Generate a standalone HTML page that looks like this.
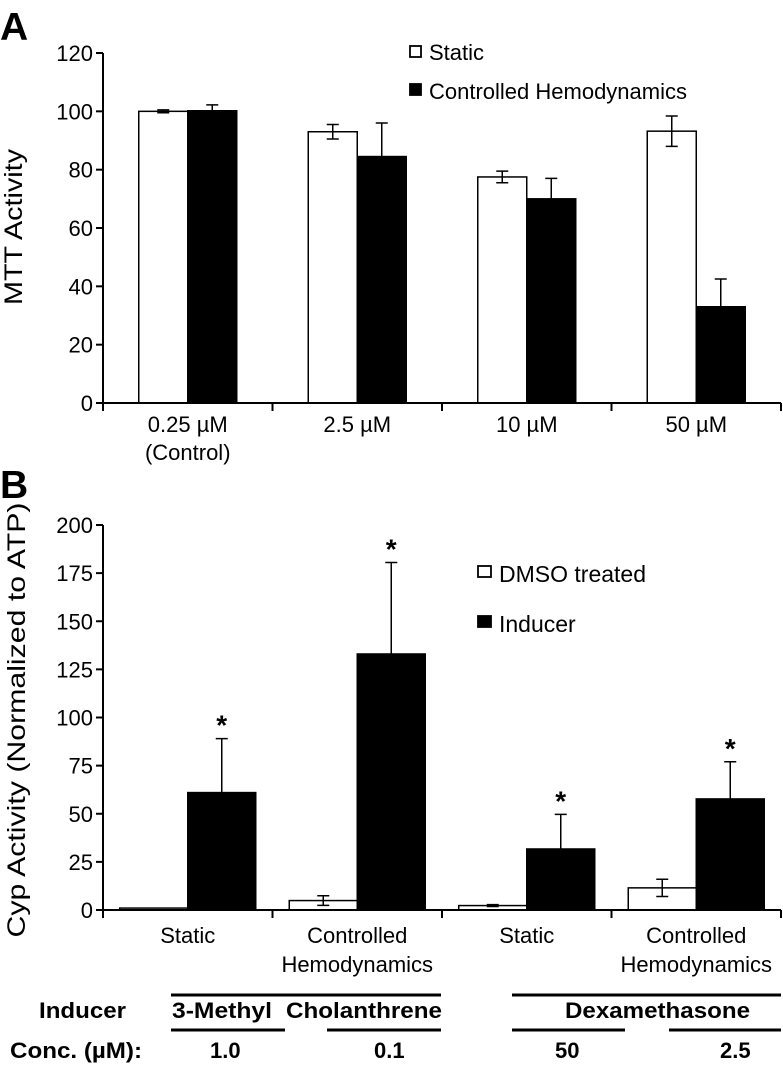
<!DOCTYPE html>
<html><head><meta charset="utf-8"><style>
html,body{margin:0;padding:0;background:#fff;}
svg{display:block;font-family:"Liberation Sans",Arial,sans-serif;}
</style></head><body>
<svg id="fig" width="783" height="1069" viewBox="0 0 783 1069" xmlns="http://www.w3.org/2000/svg">
<text x="0" y="40" font-size="39" font-weight="bold">A</text>
<text x="0" y="498" font-size="39" font-weight="bold">B</text>
<text transform="translate(22,227) rotate(-90)" text-anchor="middle" font-size="25" textLength="156" lengthAdjust="spacingAndGlyphs">MTT Activity</text>
<text transform="translate(25,720) rotate(-90)" text-anchor="middle" font-size="25" textLength="435" lengthAdjust="spacingAndGlyphs">Cyp Activity (Normalized to ATP)</text>
<g id="chartA"></g>
<g id="chartB"></g>
<g>
<rect x="410" y="46" width="11" height="11" fill="#fff" stroke="#000" stroke-width="1.8"/>
<text x="429" y="60" font-size="22">Static</text>
<rect x="410" y="84" width="11" height="11" fill="#000" stroke="#000" stroke-width="1.8"/>
<text x="429" y="99" font-size="22">Controlled Hemodynamics</text>
</g>
<g>
<rect x="478" y="566" width="13" height="11" fill="#fff" stroke="#000" stroke-width="1.8"/>
<text x="499" y="582" font-size="23">DMSO treated</text>
<rect x="478" y="616" width="13" height="11" fill="#000" stroke="#000" stroke-width="1.8"/>
<text x="499" y="632" font-size="23">Inducer</text>
</g>
<g font-size="22" font-weight="bold">
<line x1="171" y1="995" x2="441" y2="995" stroke="#000" stroke-width="3"/>
<line x1="512" y1="995" x2="781" y2="995" stroke="#000" stroke-width="3"/>
<line x1="171" y1="1030" x2="285" y2="1030" stroke="#000" stroke-width="3"/>
<line x1="327" y1="1030" x2="441" y2="1030" stroke="#000" stroke-width="3"/>
<line x1="512" y1="1030" x2="625" y2="1030" stroke="#000" stroke-width="3"/>
<line x1="669" y1="1030" x2="781" y2="1030" stroke="#000" stroke-width="3"/>
<text x="39" y="1018" textLength="87" lengthAdjust="spacingAndGlyphs">Inducer</text>
<text x="172" y="1018" textLength="100" lengthAdjust="spacingAndGlyphs">3-Methyl</text>
<text x="286" y="1018" textLength="156" lengthAdjust="spacingAndGlyphs">Cholanthrene</text>
<text x="565" y="1018" textLength="185" lengthAdjust="spacingAndGlyphs">Dexamethasone</text>
<text x="10" y="1058" textLength="132" lengthAdjust="spacingAndGlyphs">Conc. (µM):</text>
<text x="210" y="1058">1.0</text>
<text x="374" y="1058">0.1</text>
<text x="555" y="1058">50</text>
<text x="720" y="1058">2.5</text>
</g>
</svg>
<script>
const catsA = [["0.25 µM","(Control)"],["2.5 µM"],["10 µM"],["50 µM"]];
const staticA = [100, 93, 77.5, 93.2];
const staticErrA = [0.5, 2.5, 2, 5.2];
const hemoA = [100.2, 84.5, 70, 33];
const hemoErrA = [2, 11.5, 7, 9.5];
const ticksA = [0, 20, 40, 60, 80, 100, 120];

const catsB = [["Static"],["Controlled","Hemodynamics"],["Static"],["Controlled","Hemodynamics"]];
const dmsoB = [1, 4.9, 2.3, 11.5];
const dmsoErrB = [0, 2.5, 0.5, 4.5];
const inducerB = [61, 133, 31.7, 57.7];
const inducerErrB = [28, 47.5, 18, 19.3];
const sigB = [true, true, true, true];
const ticksB = [0, 25, 50, 75, 100, 125, 150, 175, 200];

const NS = "http://www.w3.org/2000/svg";
function mk(parent, tag, attrs, txt) {
  const e = document.createElementNS(NS, tag);
  for (const k in attrs) e.setAttribute(k, attrs[k]);
  if (txt !== undefined) e.textContent = txt;
  parent.appendChild(e);
  return e;
}

function drawChart(g, cfg) {
  const x0 = 103, x1 = 781, n = cfg.cats.length;
  const gw = (x1 - x0) / n;
  const y = v => cfg.yBase - v / cfg.yMax * (cfg.yBase - cfg.yTop);
  const xc = i => x0 + gw * (i + 0.5);
  for (let i = 0; i < n; i++) {
    const c = xc(i);
    const series = [[cfg.s1[i], cfg.e1[i], "#fff", c - cfg.bw], [cfg.s2[i], cfg.e2[i], "#000", c]];
    series.forEach((s, j) => {
      const r = mk(g, "rect", {x: s[3], y: y(s[0]), width: cfg.bw, height: cfg.yBase - y(s[0]), fill: s[2], stroke: "#000", "stroke-width": 1.5});
      
      
      if (s[1] > 0) {
        const mx = s[3] + cfg.bw / 2, hi = y(s[0] + s[1]), lo = y(s[0] - s[1]);
        const eb = mk(g, "path", {d: `M${mx},${lo}V${hi}M${mx - 6},${hi}H${mx + 6}M${mx - 6},${lo}H${mx + 6}`, stroke: "#000", "stroke-width": 1.5, fill: "none"});
        
        
      }
    });
    if (cfg.sig && cfg.sig[i]) {
      const st = mk(g, "text", {x: c + cfg.bw / 2, y: y(cfg.s2[i] + cfg.e2[i]) - 4, "text-anchor": "middle", "font-size": 28, "font-weight": "bold"}, "*");
      
      
    }
    cfg.cats[i].forEach((line, k) => {
      const t = mk(g, "text", {x: c, y: cfg.labY + k * cfg.labDy, "text-anchor": "middle", "font-size": 22}, line);
      
      
    });
  }
  const ax = mk(g, "path", {d: `M${x0},${cfg.yTop}V${cfg.yBase}H${x1}`, stroke: "#000", "stroke-width": 2, fill: "none"});
  
  
  for (let i = 0; i <= n; i++) {
    const tx = x0 + gw * i;
    const tk = mk(g, "line", {x1: tx, y1: cfg.yBase, x2: tx, y2: cfg.yBase + 8, stroke: "#000", "stroke-width": 2});
    
    
  }
  cfg.ticks.forEach(v => {
    const tk = mk(g, "line", {x1: x0 - 7, y1: y(v), x2: x0, y2: y(v), stroke: "#000", "stroke-width": 2});
    
    
    const tl = mk(g, "text", {x: x0 - 10, y: y(v) + 8, "text-anchor": "end", "font-size": 22}, String(v));
    
    
  });
}

drawChart(document.getElementById("chartA"), {
  cats: catsA, s1: staticA, e1: staticErrA, s2: hemoA, e2: hemoErrA, ticks: ticksA,
  yTop: 53, yBase: 403, yMax: 120, bw: 49, labY: 432, labDy: 28, n1: "static", n2: "controlled"
});
drawChart(document.getElementById("chartB"), {
  cats: catsB, s1: dmsoB, e1: dmsoErrB, s2: inducerB, e2: inducerErrB, ticks: ticksB, sig: sigB,
  yTop: 525, yBase: 910, yMax: 200, bw: 68, labY: 943, labDy: 29, n1: "dmso", n2: "inducer"
});
</script>
</body></html>
